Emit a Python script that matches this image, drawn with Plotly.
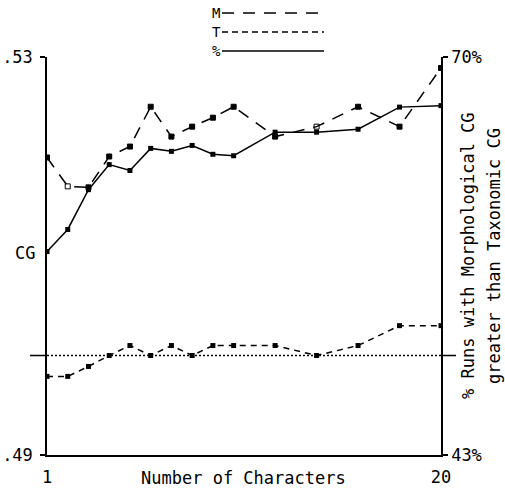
import plotly.graph_objects as go

# Number of characters sampled
chars = [1, 2, 3, 4, 5, 6, 7, 8, 9, 10, 12, 14, 16, 18, 20]

# Mean morphological CG (left axis)
m_cg = [0.5199, 0.5170, 0.5169, 0.5200, 0.5210, 0.5250, 0.5220, 0.5230,
        0.5239, 0.5250, 0.5220, 0.5230, 0.5250, 0.5230, 0.5289]
m_symbols = ["square", "square-open", "square", "square", "square", "square",
             "square", "square", "square", "square", "square", "square-open",
             "square", "square", "square"]

# Mean taxonomic CG (left axis)
t_cg = [0.4979, 0.4979, 0.4989, 0.5000, 0.5010, 0.5000, 0.5010, 0.5000,
        0.5010, 0.5010, 0.5010, 0.5000, 0.5010, 0.5030, 0.5030]

# Percent of runs with morphological CG greater than taxonomic CG (right axis)
pct = [56.8, 58.3, 61.0, 62.7, 62.3, 63.8, 63.6, 64.0, 63.4, 63.3,
       64.9, 64.9, 65.1, 66.6, 66.7]

ref_cg = 0.50
cg_label_at = 0.5103

FONT = "DejaVu Sans Mono"
INK = "black"

fig = go.Figure()

fig.add_trace(go.Scatter(
    x=chars, y=m_cg, mode="lines+markers", name="M",
    line=dict(color=INK, width=1.5, dash="12px,9px"),
    marker=dict(symbol=m_symbols, size=5, color=INK, line=dict(color=INK, width=1)),
))
fig.add_trace(go.Scatter(
    x=chars, y=t_cg, mode="lines+markers", name="T",
    line=dict(color=INK, width=1.5, dash="6px,5px"),
    marker=dict(symbol="square", size=5, color=INK),
))
fig.add_trace(go.Scatter(
    x=chars, y=pct, mode="lines+markers", name="%", yaxis="y2",
    line=dict(color=INK, width=1.5),
    marker=dict(symbol="square", size=5, color=INK),
))

# Reference level at CG = .50: solid ticks outside the axes, dotted inside
fig.add_shape(type="line", xref="paper", yref="y", x0=-17 / 394, x1=0,
              y0=ref_cg, y1=ref_cg, line=dict(color=INK, width=1.5))
fig.add_shape(type="line", xref="paper", yref="y", x0=1, x1=1 + 15 / 394,
              y0=ref_cg, y1=ref_cg, line=dict(color=INK, width=1.5))
fig.add_shape(type="line", xref="paper", yref="y", x0=0, x1=1,
              y0=ref_cg, y1=ref_cg, line=dict(color=INK, width=1.5, dash="2px,2px"))

# Key above the plot: letter followed by line sample
key = [("M", "12px,9px", 13), ("T", "6px,4px", 32), ("%", "solid", 51)]
for label, dash, ypx in key:
    yp = 1 + (57 - ypx) / 398
    fig.add_annotation(text=label, xref="paper", yref="paper", x=(216 - 47) / 394, y=yp,
                       showarrow=False, xanchor="center", yanchor="middle",
                       font=dict(family=FONT, size=14, color=INK))
    fig.add_shape(type="line", xref="paper", yref="paper",
                  x0=(222 - 47) / 394, x1=(324 - 47) / 394, y0=yp, y1=yp,
                  line=dict(color=INK, width=1.3, dash=dash))

# CG marker on the left axis
fig.add_annotation(text="CG", xref="paper", yref="y", x=0, y=cg_label_at,
                   xanchor="right", yanchor="middle", xshift=-10, showarrow=False,
                   font=dict(family=FONT, size=17, color=INK))

# X axis title on the tick label line
fig.add_annotation(text="Number of Characters", xref="paper", yref="paper",
                   x=(243 - 47) / 394, y=0, yshift=-23, yanchor="middle",
                   showarrow=False, font=dict(family=FONT, size=17, color=INK))

# Right axis title, two rotated lines
for txt, xpx in [("% Runs with Morphological CG", 468),
                 ("greater than Taxonomic CG", 494)]:
    fig.add_annotation(text=txt, xref="paper", yref="paper",
                       x=(xpx - 47) / 394, y=0.5, xanchor="center", yanchor="middle",
                       textangle=-90, showarrow=False,
                       font=dict(family=FONT, size=17, color=INK))

fig.update_layout(
    width=505, height=491,
    margin=dict(l=47, r=64, t=57, b=36),
    paper_bgcolor="white", plot_bgcolor="white",
    showlegend=False,
    font=dict(family=FONT, size=17, color=INK),
    xaxis=dict(
        range=[1, 20], tickvals=[1, 20], ticktext=["1", "20"], automargin=False,
        showgrid=False, zeroline=False, showline=True, linecolor=INK, linewidth=1.5,
        ticks="", ticklabelstandoff=6, tickfont=dict(family=FONT, size=17, color=INK),
    ),
    yaxis=dict(
        range=[0.49, 0.53], tickvals=[0.49, 0.53], ticktext=[".49", ".53"], automargin=False,
        showgrid=False, zeroline=False, showline=True, linecolor=INK, linewidth=1.5,
        ticks="outside", ticklen=5, tickwidth=1.5, tickcolor=INK, ticklabelstandoff=4,
        tickfont=dict(family=FONT, size=17, color=INK),
    ),
    yaxis2=dict(
        range=[43, 70], tickvals=[43, 70], ticktext=["43%", "70%"], automargin=False,
        overlaying="y", side="right",
        showgrid=False, zeroline=False, showline=True, linecolor=INK, linewidth=1.5,
        ticks="outside", ticklen=5, tickwidth=1.5, tickcolor=INK,
        tickfont=dict(family=FONT, size=17, color=INK),
    ),
)

fig.write_html("out.html")
